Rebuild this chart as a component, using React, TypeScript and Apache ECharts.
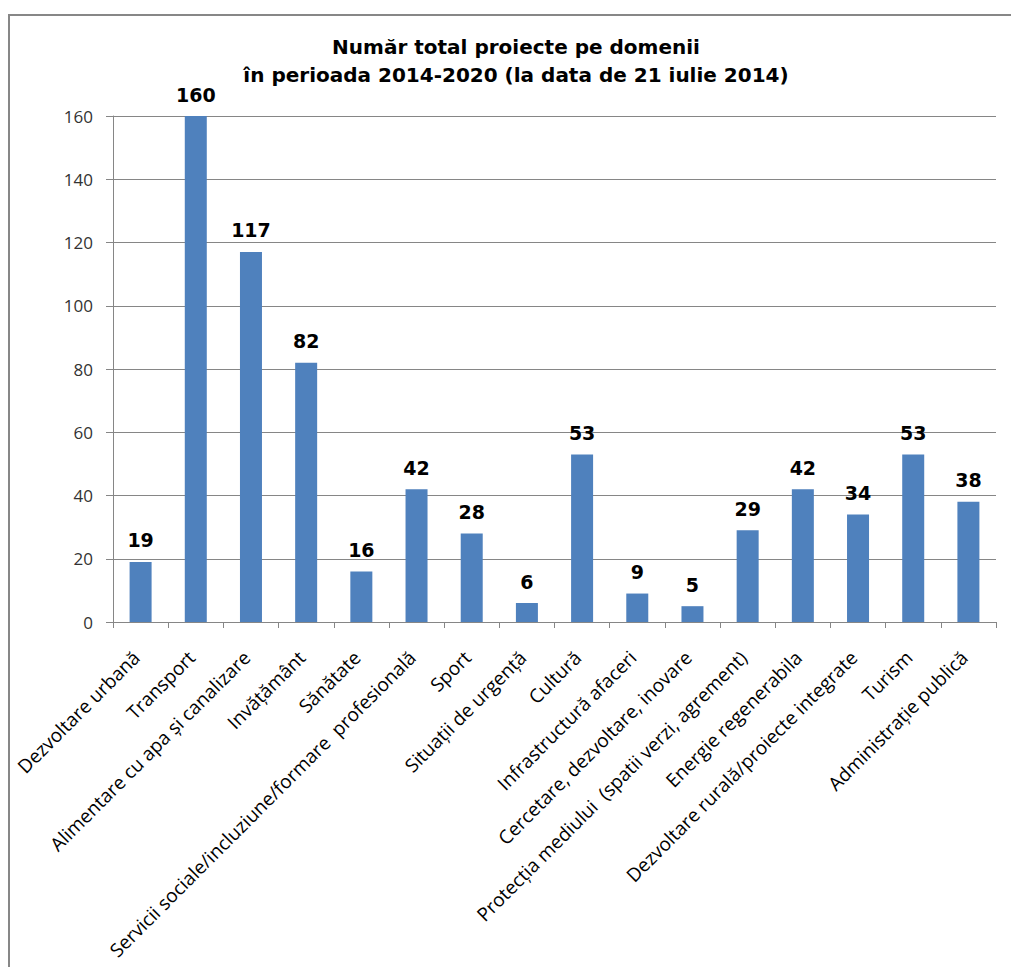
import React, { useEffect, useRef } from "react";
import * as echarts from "echarts";

const categories: string[] = [
  "Dezvoltare urbană",
  "Transport",
  "Alimentare cu apa și canalizare",
  "Invățământ",
  "Sănătate",
  "Servicii sociale/incluziune/formare  profesională",
  "Sport",
  "Situații de urgență",
  "Cultură",
  "Infrastructură afaceri",
  "Cercetare, dezvoltare, inovare",
  "Protecția mediului  (spatii verzi, agrement)",
  "Energie regenerabila",
  "Dezvoltare rurală/proiecte integrate",
  "Turism",
  "Administrație publică",
];

const values: number[] = [19, 160, 117, 82, 16, 42, 28, 6, 53, 9, 5, 29, 42, 34, 53, 38];

const titleLines: string[] = [
  "Număr total proiecte pe domenii",
  "în perioada 2014-2020 (la data de 21 iulie 2014)",
];

export default function App() {
  const ref = useRef<HTMLDivElement>(null);
  useEffect(() => {
    if (!ref.current) return;
    const chart = echarts.init(ref.current, null, { renderer: "svg" });
    chart.setOption({
      animation: false,
      backgroundColor: "#ffffff",
      graphic: [
        {
          type: "rect",
          shape: { x: 9, y: 15, width: 1100, height: 1100 },
          style: { fill: "none", stroke: "#878787", lineWidth: 2 },
          silent: true,
        },
        {
          type: "text",
          x: 516,
          y: 47,
          style: {
            text: titleLines[0],
            font: "bold 20px 'DejaVu Sans'",
            fill: "#000",
            align: "center",
            verticalAlign: "middle",
          },
        },
        {
          type: "text",
          x: 516,
          y: 75,
          style: {
            text: titleLines[1],
            font: "bold 20px 'DejaVu Sans'",
            fill: "#000",
            align: "center",
            verticalAlign: "middle",
          },
        },
      ],
      grid: { left: 113, right: 15, top: 116, bottom: 345, containLabel: false },
      xAxis: {
        type: "category",
        data: categories,
        axisLine: { show: true, lineStyle: { color: "#868686", width: 1 } },
        axisTick: { show: true, length: 6, alignWithLabel: false, lineStyle: { color: "#868686" } },
        axisLabel: {
          interval: 0,
          rotate: 45,
          fontFamily: "'Open Sans'",
          fontSize: 19,
          color: "#000",
          margin: 28,
          padding: [0, 6, 0, 0],
        },
      },
      yAxis: {
        type: "value",
        min: 0,
        max: 160,
        interval: 20,
        axisLine: { show: true, lineStyle: { color: "#868686", width: 1 } },
        axisTick: { show: true, length: 7, lineStyle: { color: "#868686" } },
        axisLabel: {
          fontFamily: "'Open Sans'",
          fontSize: 17,
          color: "#333",
          margin: 20,
        },
        splitLine: { show: true, lineStyle: { color: "#868686", width: 1 } },
      },
      series: [
        {
          type: "bar",
          data: values,
          barWidth: 22,
          itemStyle: { color: "#4F81BD" },
          label: {
            show: true,
            position: "top",
            distance: 12,
            fontFamily: "'DejaVu Sans'",
            fontWeight: "bold",
            fontSize: 19,
            color: "#000",
          },
        },
      ],
    });
    return () => chart.dispose();
  }, []);
  return (
    <div
      ref={ref}
      style={{ position: "fixed", left: 0, top: 0, width: 1011, height: 967 }}
    />
  );
}
